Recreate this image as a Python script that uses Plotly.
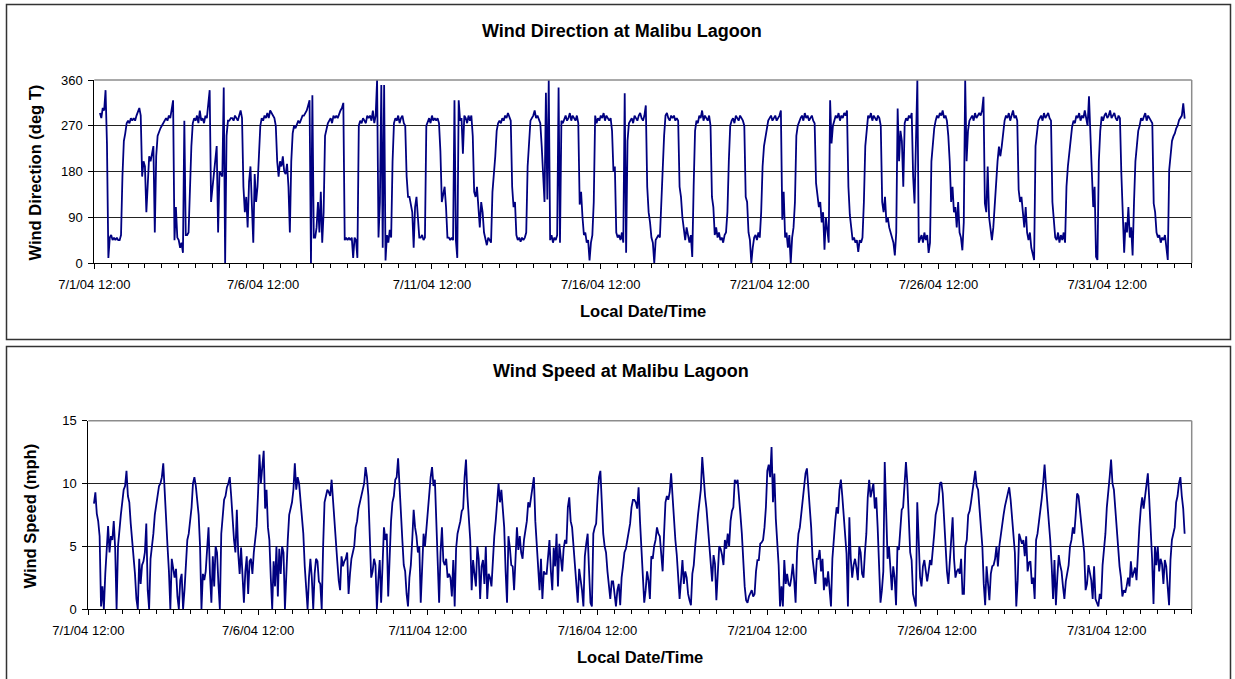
import pandas as pd
import plotly.graph_objects as go

# ---------------- data (hourly readings) ----------------
first_reading = "2004-07-01 16:00"

wind_direction_deg = [
    295, 285, 305, 300, 340, 235, 10, 50,                                                          # 7/1 16h-23h
    55, 45, 50, 45, 50, 45, 45, 55, 170, 240, 255, 275, 280, 275, 285, 280, 285, 280, 290, 300, 305, 290, 170, 200,  # 7/2
    190, 100, 170, 210, 200, 220, 230, 60, 210, 250, 260, 265, 270, 275, 280, 285, 280, 290, 285, 300, 320, 45, 110, 50,  # 7/3
    45, 30, 40, 20, 280, 55, 55, 60, 150, 230, 275, 285, 280, 290, 275, 300, 280, 285, 275, 290, 285, 320, 340, 120,  # 7/4
    150, 170, 200, 230, 60, 180, 175, 170, 345, 0, 250, 280, 280, 285, 285, 280, 290, 285, 280, 290, 300, 285, 150, 100,  # 7/5
    130, 70, 160, 190, 100, 40, 175, 120, 150, 230, 270, 285, 280, 290, 285, 295, 285, 300, 295, 290, 285, 270, 200, 170,  # 7/6
    200, 190, 210, 180, 175, 195, 150, 60, 200, 255, 270, 265, 275, 280, 275, 285, 290, 290, 295, 300, 310, 320, 0, 330,  # 7/7
    50, 50, 70, 120, 60, 140, 40, 100, 250, 265, 275, 280, 285, 275, 290, 285, 290, 285, 295, 300, 305, 315, 45, 50,  # 7/8
    45, 50, 45, 50, 10, 50, 45, 10, 270, 280, 275, 285, 280, 275, 290, 285, 290, 280, 300, 275, 290, 360, 50, 120,  # 7/9
    350, 30, 350, 5, 55, 40, 65, 50, 200, 275, 285, 280, 290, 275, 285, 290, 275, 270, 170, 130, 130, 110, 100, 30,  # 7/10
    110, 130, 90, 50, 50, 55, 45, 50, 270, 280, 285, 275, 290, 280, 285, 280, 285, 275, 220, 120, 140, 150, 110, 50,  # 7/11
    50, 45, 50, 45, 320, 45, 10, 320, 280, 285, 215, 290, 285, 275, 290, 280, 290, 250, 140, 130, 150, 110, 70, 120,  # 7/12
    100, 60, 45, 35, 50, 45, 40, 140, 170, 210, 260, 275, 280, 275, 285, 280, 290, 285, 295, 285, 280, 150, 110, 120,  # 7/13
    55, 45, 50, 42, 50, 45, 50, 60, 190, 235, 280, 285, 290, 300, 285, 290, 280, 275, 230, 170, 120, 335, 125, 360,  # 7/14
    45, 55, 40, 50, 45, 55, 345, 40, 280, 275, 285, 290, 280, 285, 295, 280, 290, 285, 280, 290, 275, 115, 140, 90,  # 7/15
    55, 60, 40, 45, 5, 40, 55, 120, 290, 275, 285, 280, 290, 285, 295, 280, 290, 285, 280, 285, 260, 180, 190, 60,  # 7/16
    50, 55, 45, 60, 40, 334, 20, 240, 275, 280, 285, 275, 290, 285, 280, 290, 295, 285, 280, 290, 310, 150, 100, 80,  # 7/17
    50, 40, 0, 45, 50, 55, 50, 120, 200, 250, 290, 295, 285, 280, 290, 285, 290, 280, 285, 280, 150, 130, 90, 60,  # 7/18
    45, 70, 50, 40, 55, 12, 150, 260, 280, 275, 290, 285, 300, 280, 290, 285, 280, 290, 270, 130, 110, 55, 70, 50,  # 7/19
    60, 45, 50, 40, 55, 60, 100, 200, 270, 280, 285, 275, 290, 285, 280, 290, 285, 280, 270, 130, 120, 60, 45, 0,  # 7/20
    30, 50, 55, 45, 60, 50, 100, 190, 230, 250, 265, 280, 285, 290, 280, 285, 290, 280, 285, 290, 300, 85, 140, 50,  # 7/21
    60, 30, 55, 0, 50, 70, 120, 250, 270, 280, 285, 290, 280, 295, 285, 290, 280, 285, 290, 280, 275, 157, 130, 110,  # 7/22
    120, 80, 100, 26, 90, 70, 40, 320, 235, 270, 281, 290, 285, 295, 280, 290, 285, 295, 290, 300, 150, 95, 70, 45,  # 7/23
    50, 40, 45, 22, 45, 40, 50, 120, 230, 265, 290, 285, 295, 280, 290, 285, 280, 290, 285, 270, 120, 100, 130, 80,  # 7/24
    90, 70, 60, 45, 40, 15, 60, 304, 200, 260, 240, 150, 275, 285, 280, 290, 285, 295, 170, 117, 230, 360, 40, 50,  # 7/25
    55, 40, 60, 45, 55, 20, 40, 200, 240, 265, 280, 290, 285, 295, 290, 300, 285, 290, 280, 250, 200, 120, 150, 100,  # 7/26
    110, 70, 120, 60, 50, 25, 80, 360, 200, 260, 280, 285, 290, 280, 295, 285, 290, 295, 290, 300, 327, 117, 100, 190,  # 7/27
    90, 60, 45, 70, 120, 176, 200, 229, 210, 230, 262, 280, 290, 285, 295, 280, 290, 300, 285, 290, 280, 144, 120, 130,  # 7/28
    100, 70, 110, 60, 45, 60, 30, 20, 6, 230, 255, 280, 285, 290, 280, 295, 285, 290, 295, 285, 280, 120, 80, 50,  # 7/29
    45, 60, 40, 55, 45, 60, 40, 150, 190, 216, 240, 268, 280, 275, 290, 285, 295, 280, 290, 285, 300, 280, 270, 328,  # 7/30
    235, 180, 110, 150, 12, 6, 200, 260, 288, 280, 290, 295, 285, 290, 300, 285, 290, 295, 285, 280, 290, 285, 176, 90,  # 7/31
    20, 80, 60, 110, 50, 70, 15, 120, 200, 230, 260, 270, 285, 280, 290, 295, 280, 290, 285, 280, 275, 117, 100, 60,  # 8/1
    50, 55, 40, 50, 45, 55, 30, 6, 183, 222, 240, 249, 255, 265, 270, 281, 285, 290, 314, 284,     # 8/2 0h-19h
]

wind_speed_mph = [
    8.4, 9.3, 7.6, 7.0, 5.8, 0.2, 1.8, 0.0,                                                        # 7/1 16h-23h
    2.8, 5.0, 6.6, 4.5, 5.8, 5.5, 7.0, 4.8, 0.0, 5.0, 6.6, 7.5, 8.5, 9.5, 9.8, 11.0, 9.0, 8.5, 6.8, 5.5, 4.2, 2.8, 0.8, 0.0,  # 7/2
    4.0, 2.0, 3.5, 3.8, 4.5, 6.8, 1.5, 0.0, 4.0, 4.8, 6.0, 7.5, 8.2, 9.0, 9.8, 10.0, 10.5, 11.6, 9.0, 6.5, 5.0, 3.0, 0.0, 4.0,  # 7/3
    3.0, 2.5, 3.2, 1.0, 0.0, 2.3, 2.8, 0.0, 1.5, 4.0, 5.5, 6.0, 7.0, 8.1, 10.0, 10.5, 9.8, 8.5, 7.5, 5.0, 0.0, 2.8, 2.3, 3.0,  # 7/4
    4.5, 6.5, 2.8, 0.5, 4.2, 1.8, 5.0, 4.5, 2.0, 0.0, 6.0, 7.8, 8.7, 9.0, 9.7, 10.0, 10.5, 9.0, 7.0, 5.5, 4.5, 7.9, 4.4, 2.8,  # 7/5
    4.9, 2.5, 0.5, 3.0, 4.2, 1.2, 3.8, 4.0, 2.8, 4.5, 5.5, 6.6, 9.2, 12.3, 10.0, 11.5, 12.6, 8.0, 9.5, 6.5, 5.5, 2.5, 0.0, 3.8,  # 7/6
    1.8, 5.0, 1.0, 4.8, 2.8, 5.0, 4.5, 0.0, 3.1, 5.5, 7.5, 8.0, 8.5, 9.5, 11.6, 9.5, 10.5, 10.0, 8.5, 7.0, 6.0, 3.4, 1.2, 0.0,  # 7/7
    2.5, 4.0, 2.5, 0.0, 2.8, 4.0, 3.8, 2.2, 2.0, 0.0, 5.0, 8.5, 9.0, 9.5, 9.3, 9.0, 10.3, 8.5, 6.8, 5.0, 3.8, 2.3, 1.5, 4.2,  # 7/8
    3.4, 3.8, 4.0, 4.5, 1.2, 2.8, 4.0, 4.5, 5.0, 6.5, 7.0, 8.0, 8.5, 9.0, 9.3, 10.0, 11.3, 10.5, 9.0, 5.5, 2.5, 3.0, 4.0, 3.5,  # 7/9
    0.0, 2.3, 3.9, 0.5, 4.5, 6.5, 5.5, 6.0, 1.0, 5.0, 7.0, 8.5, 9.0, 10.3, 10.5, 12.0, 9.5, 8.1, 5.5, 3.5, 3.0, 1.2, 0.2, 2.5,  # 7/10
    3.5, 5.5, 7.9, 6.5, 5.8, 4.5, 5.0, 0.5, 4.0, 6.0, 5.0, 6.5, 7.6, 9.5, 10.5, 11.3, 9.8, 10.3, 6.5, 2.5, 0.5, 4.5, 6.5, 3.8,  # 7/11
    3.5, 4.0, 2.5, 2.8, 2.5, 1.0, 3.9, 0.2, 4.8, 6.0, 6.5, 7.0, 7.8, 8.0, 10.5, 11.9, 9.0, 7.5, 5.5, 1.5, 3.9, 2.8, 1.8, 5.0,  # 7/12
    4.0, 0.8, 3.4, 3.9, 2.0, 5.0, 0.8, 2.8, 2.5, 1.8, 4.0, 5.8, 7.0, 9.0, 10.0, 8.5, 9.5, 8.0, 6.5, 3.0, 0.5, 5.8, 4.9, 3.5,  # 7/13
    3.4, 1.5, 4.0, 6.5, 4.7, 5.8, 4.5, 4.0, 5.5, 6.2, 7.0, 8.5, 8.1, 8.9, 9.8, 10.5, 7.0, 5.0, 3.4, 1.5, 4.0, 0.8, 3.0, 2.8,  # 7/14
    2.8, 4.5, 5.5, 3.0, 1.5, 4.9, 3.4, 6.0, 1.8, 5.2, 4.0, 3.0, 4.8, 5.5, 5.2, 8.1, 8.9, 7.0, 6.5, 5.0, 3.0, 2.2, 0.5, 3.2,  # 7/15
    2.5, 1.5, 0.2, 4.2, 5.2, 6.0, 3.0, 0.5, 0.2, 6.0, 6.5, 6.8, 8.9, 10.5, 11.0, 8.5, 6.0, 5.0, 4.5, 3.0, 1.5, 0.8, 2.2, 2.2,  # 7/16
    1.2, 0.2, 1.5, 2.0, 0.3, 2.5, 3.4, 4.5, 4.8, 5.5, 6.0, 6.8, 8.1, 8.7, 8.7, 8.5, 8.0, 9.7, 7.0, 4.5, 3.0, 0.5, 1.5, 3.0,  # 7/17
    2.3, 0.8, 4.2, 4.0, 5.0, 5.5, 6.5, 6.0, 5.8, 4.0, 3.0, 6.0, 8.5, 9.0, 8.7, 9.3, 10.8, 9.0, 7.0, 5.5, 4.3, 2.8, 0.8, 2.3,  # 7/18
    3.9, 2.0, 3.0, 2.5, 1.2, 0.7, 0.3, 2.8, 3.5, 5.0, 6.5, 7.5, 8.5, 9.5, 12.1, 10.0, 9.0, 8.0, 6.5, 5.5, 3.5, 2.2, 4.3, 3.6,  # 7/19
    0.7, 3.5, 5.0, 4.8, 4.3, 3.5, 5.5, 4.8, 6.0, 5.0, 7.0, 7.8, 8.1, 10.3, 10.0, 10.3, 8.5, 7.5, 6.0, 3.4, 1.8, 0.7, 0.5, 1.0,  # 7/20
    1.3, 1.5, 1.0, 1.2, 3.0, 3.9, 3.9, 5.2, 5.3, 5.5, 6.5, 8.1, 11.0, 11.5, 10.5, 12.9, 8.5, 10.8, 7.2, 5.5, 3.5, 0.2, 1.8, 0.2,  # 7/21
    3.9, 2.0, 2.8, 2.0, 1.8, 2.5, 3.6, 2.3, 0.5, 4.5, 6.0, 6.5, 7.6, 8.5, 9.5, 10.8, 11.2, 9.8, 7.9, 6.5, 4.0, 3.0, 2.0, 4.0,  # 7/22
    4.0, 4.7, 3.0, 4.0, 1.5, 2.5, 1.8, 3.0, 1.5, 0.2, 4.0, 6.0, 7.0, 8.1, 7.6, 9.5, 10.3, 9.0, 7.5, 6.5, 4.4, 0.2, 7.3, 4.0,  # 7/23
    2.5, 3.5, 4.0, 3.3, 2.3, 5.0, 4.5, 2.8, 2.5, 4.5, 6.0, 8.9, 10.3, 8.9, 9.5, 10.0, 8.0, 8.9, 6.5, 4.0, 0.5, 1.5, 3.0, 11.7,  # 7/24
    6.5, 4.0, 5.0, 3.5, 1.5, 3.4, 2.5, 0.3, 5.0, 4.7, 6.0, 7.9, 8.1, 10.5, 11.7, 10.0, 7.0, 4.5, 3.9, 1.2, 0.7, 0.2, 8.5, 5.0,  # 7/25
    2.5, 1.8, 3.4, 3.9, 3.0, 2.2, 3.0, 3.9, 3.5, 4.5, 6.0, 7.5, 8.0, 8.5, 10.0, 10.1, 9.2, 7.0, 5.0, 3.0, 2.0, 4.0, 5.0, 7.3,  # 7/26
    4.0, 2.5, 3.0, 3.2, 2.8, 4.0, 1.2, 1.2, 5.0, 5.5, 7.5, 7.8, 8.5, 9.5, 10.5, 11.0, 9.8, 9.5, 8.0, 6.5, 5.0, 2.0, 0.3, 3.4,  # 7/27
    2.3, 0.7, 2.8, 3.4, 3.5, 4.0, 5.0, 3.4, 5.0, 6.0, 7.0, 7.5, 8.2, 8.7, 9.2, 9.7, 8.7, 7.5, 5.8, 4.5, 0.2, 2.3, 6.0, 5.5,  # 7/28
    5.2, 5.5, 4.2, 5.8, 3.0, 3.7, 3.8, 2.0, 2.5, 0.8, 5.5, 6.0, 6.8, 7.6, 8.8, 10.0, 11.5, 9.8, 8.5, 7.0, 5.5, 3.5, 0.8, 3.9,  # 7/29
    0.3, 2.5, 4.3, 3.5, 3.0, 1.8, 0.8, 2.2, 3.0, 3.5, 5.0, 5.5, 6.5, 6.0, 7.5, 9.2, 9.0, 8.0, 7.0, 6.0, 4.5, 1.5, 2.0, 3.5,  # 7/30
    3.0, 2.3, 0.8, 3.4, 0.8, 0.5, 0.2, 1.2, 0.8, 3.5, 4.5, 6.0, 8.1, 9.7, 10.5, 11.9, 10.0, 9.5, 8.0, 6.5, 4.5, 3.4, 2.5, 1.0,  # 7/31
    1.5, 1.3, 1.8, 2.5, 1.8, 3.8, 2.5, 3.0, 3.3, 2.3, 4.7, 6.5, 8.0, 8.9, 8.0, 9.0, 9.8, 10.8, 8.7, 6.8, 4.0, 0.4, 5.0, 3.5,  # 8/1
    5.0, 3.0, 4.0, 3.6, 2.0, 3.9, 3.4, 1.8, 0.3, 3.9, 5.5, 6.0, 6.5, 8.5, 9.0, 10.0, 10.5, 9.0, 8.0, 6.0,  # 8/2 0h-19h
]

x_range = ["2004-07-01 12:00", "2004-08-03 00:00"]
x_tick_start = "2004-07-01 12:00"
direction_ticks = [0, 90, 180, 270, 360]
speed_ticks = [0, 5, 10, 15]

top_title = "Wind Direction at Malibu Lagoon"
bottom_title = "Wind Speed at Malibu Lagoon"
top_ytitle = "Wind Direction (deg T)"
bottom_ytitle = "Wind Speed (mph)"
xtitle = "Local Date/Time"

# ---------------- figure ----------------
W, H = 1235, 679
FONT = "Liberation Sans, Arial, sans-serif"
NAVY = "#000080"


def px(x):
    return x / W


def py(y):
    return 1 - y / H


times_dir = pd.date_range(first_reading, periods=len(wind_direction_deg), freq="h")
times_spd = pd.date_range(first_reading, periods=len(wind_speed_mph), freq="h")

fig = go.Figure()
fig.add_trace(go.Scatter(x=times_dir, y=wind_direction_deg, mode="lines",
                         line=dict(color=NAVY, width=1.8), xaxis="x", yaxis="y",
                         showlegend=False, hoverinfo="skip"))
fig.add_trace(go.Scatter(x=times_spd, y=wind_speed_mph, mode="lines",
                         line=dict(color=NAVY, width=1.8), xaxis="x2", yaxis="y2",
                         showlegend=False, hoverinfo="skip"))

DAY_MS = 86400000
xcommon = dict(type="date", range=x_range, tick0=x_tick_start, dtick=5 * DAY_MS,
               tickformat="%-m/%-d/%y %H:%M", ticks="outside", ticklen=5, tickwidth=1,
               tickcolor="black", showline=True, linecolor="black", linewidth=1,
               showgrid=False, zeroline=False, ticklabelstandoff=4, automargin=False,
               minor=dict(tick0=x_tick_start, dtick=DAY_MS / 2, ticks="outside",
                          ticklen=4, tickcolor="black", showgrid=False),
               tickfont=dict(family=FONT, size=13, color="black"))
ycommon = dict(ticks="outside", ticklen=5, tickcolor="black", showline=True,
               linecolor="black", linewidth=1, showgrid=True, gridcolor="#222222",
               gridwidth=1, zeroline=False, ticklabelstandoff=3, automargin=False,
               tickfont=dict(family=FONT, size=13, color="black"))

# plot-area pixel boxes
top_box = (94.3, 1191.7, 80, 263)
bot_box = (88.3, 1191.7, 420.7, 609)

fig.update_layout(
    template="none",
    width=W, height=H, margin=dict(l=0, r=0, t=0, b=0, pad=0, autoexpand=False),
    paper_bgcolor="white", plot_bgcolor="white", showlegend=False,
    xaxis=dict(domain=[px(top_box[0]), px(top_box[1])], anchor="y", **xcommon),
    yaxis=dict(domain=[py(top_box[3]), py(top_box[2])], anchor="x", range=[0, 360],
               tickvals=direction_ticks, **ycommon),
    xaxis2=dict(domain=[px(bot_box[0]), px(bot_box[1])], anchor="y2", **xcommon),
    yaxis2=dict(domain=[py(bot_box[3]), py(bot_box[2])], anchor="x2", range=[0, 15],
                tickvals=speed_ticks, **ycommon),
)

shapes = []
# outer chart frames
for (y0, y1) in [(4.5, 339.5), (346.5, 700)]:
    shapes.append(dict(type="rect", xref="paper", yref="paper", x0=px(6.5), x1=px(1230.5),
                       y0=py(y1), y1=py(y0), line=dict(color="#333333", width=1.5),
                       fillcolor="rgba(0,0,0,0)", layer="below"))
# gray plot-area border on top and right
for (x0, x1, y0, y1) in [top_box, bot_box]:
    shapes.append(dict(type="line", xref="paper", yref="paper", x0=px(x0), x1=px(x1),
                       y0=py(y0), y1=py(y0), line=dict(color="#8c8c8c", width=1.5),
                       layer="above"))
    shapes.append(dict(type="line", xref="paper", yref="paper", x0=px(x1), x1=px(x1),
                       y0=py(y0), y1=py(y1), line=dict(color="#8c8c8c", width=1.5),
                       layer="above"))
fig.update_layout(shapes=shapes)


def label(text, x, y, size, angle=0):
    fig.add_annotation(text="<b>%s</b>" % text, xref="paper", yref="paper",
                       x=px(x), y=py(y), xanchor="center", yanchor="middle",
                       showarrow=False, textangle=angle,
                       font=dict(family=FONT, size=size, color="black"))


label(top_title, 622, 31, 18)
label(top_ytitle, 34.5, 173, 16.5, -90)
label(xtitle, 643, 311, 16.5)
label(bottom_title, 621, 371, 18)
label(bottom_ytitle, 29.5, 516, 16.5, -90)
label(xtitle, 640, 657, 16.5)

fig.write_html("out.html", config={"displayModeBar": False},
               post_script="document.body.style.margin='0';document.body.style.overflow='hidden';")
